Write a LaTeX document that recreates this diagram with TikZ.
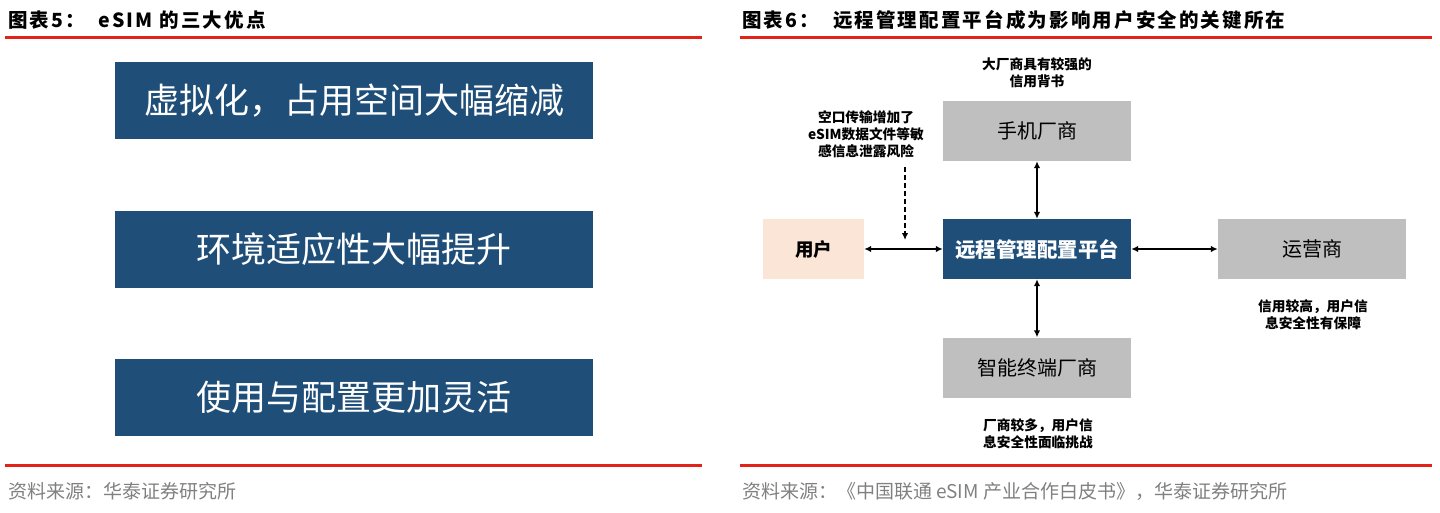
\documentclass[tikz,border=0pt]{standalone}
\usepackage{fontspec}
\setmainfont{Liberation Sans}
\newfontfamily\cjk{Noto Sans CJK SC}
\newfontfamily\cjkwide{Noto Sans CJK SC}[LetterSpace=11]
\usepackage{xcolor}
\usetikzlibrary{arrows.meta, positioning}
\definecolor{navyblue}{HTML}{1F4E79}
\definecolor{boxgray}{HTML}{BFBFBF}
\definecolor{peach}{HTML}{FBE5D6}
\definecolor{rulered}{HTML}{E3231A}
\definecolor{srcgray}{HTML}{808080}
\newcommand{\fs}[2]{\fontsize{#1}{#2}\selectfont}

\tikzset{
  title/.style={anchor=west, inner sep=0pt, font=\cjkwide\bfseries\fs{19.5}{22}},
  source/.style={anchor=west, inner sep=0pt, text=srcgray, font=\cjk\fs{19}{22}},
  redrule/.style={rulered, line width=3pt},
  bigbox/.style={fill=navyblue, text=white, minimum width=478pt, minimum height=77pt, inner sep=0pt, font=\cjk\fs{35}{38}},
  pbox/.style={minimum width=188pt, minimum height=60pt, inner sep=0pt, font=\cjk\fs{20}{24}},
  note/.style={align=center, inner sep=0pt, font=\cjk\bfseries\fs{13.7}{17}},
  link/.style={{Latex[length=7pt,width=6.5pt]}-{Latex[length=7pt,width=6.5pt]}, line width=1.7pt}
}

\begin{document}
\begin{tikzpicture}[x=1pt, y=-1pt]
  \useasboundingbox (0,0) rectangle (1440,513);

  % titles and rules
  \node[title] (T5) at (8,20) {图表5：\hspace{14pt}eSIM 的三大优点};
  \node[title] (T6) at (742,20) {图表6：\hspace{14pt}远程管理配置平台成为影响用户安全的关键所在};
  \draw[redrule] (5,37.5) -- (702,37.5);
  \draw[redrule] (740,37.5) -- (1432,37.5);
  \draw[redrule] (5,465) -- (702,465);
  \draw[redrule] (740,465) -- (1432,465);
  \node[source] (S5) at (8,491) {资料来源：华泰证券研究所};
  \node[source] (S6) at (742,491) {资料来源：《中国联通 eSIM 产业合作白皮书》，华泰证券研究所};

  % left: three advantages
  \node[bigbox] (A1) at (354,100.5) {虚拟化，占用空间大幅缩减};
  \node[bigbox] (A2) at (354,249.5) {环境适应性大幅提升};
  \node[bigbox] (A3) at (354,397.5) {使用与配置更加灵活};

  % right: platform and its partners
  \node[pbox, fill=navyblue, text=white, font=\cjk\bfseries\fs{20.5}{24}] (P) at (1037,249) {远程管理配置平台};
  \node[pbox, fill=peach, minimum width=101pt, font=\cjk\bfseries\fs{18.5}{24}] (U) at (813.5,249) {用户};
  \node[pbox, fill=boxgray] (O) at (1312,249) {运营商};
  \node[pbox, fill=boxgray] (H) at (1037,131) {手机厂商};
  \node[pbox, fill=boxgray] (D) at (1037,367.5) {智能终端厂商};

  \draw[link] (U) -- (P);
  \draw[link] (P) -- (O);
  \draw[link] (H) -- (P);
  \draw[link] (P) -- (D);

  \node[note] (nH) at (1037,72.5) {大厂商具有较强的\\信用背书};
  \node[note] (nU) at (866,134.5) {空口传输增加了\\eSIM数据文件等敏\\感信息泄露风险};
  \node[note] (nO) at (1313,315) {信用较高，用户信\\息安全性有保障};
  \node[note] (nD) at (1038,434) {厂商较多，用户信\\息安全性面临挑战};

  \coordinate (dTop) at (905,167);
  \coordinate (dEnd) at (905,240);
  \draw[-{Latex[length=7pt,width=6.5pt]}, line width=1.7pt, dash pattern=on 5pt off 3pt] (dTop) -- (dEnd);
\end{tikzpicture}
\end{document}
